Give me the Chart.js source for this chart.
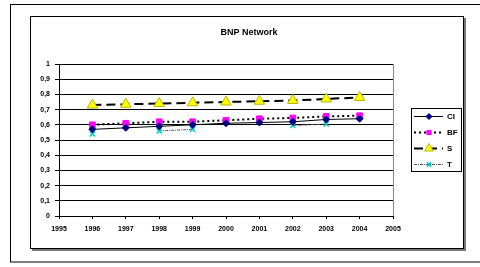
<!DOCTYPE html>
<html><head><meta charset="utf-8">
<script src="https://cdn.jsdelivr.net/npm/chart.js@4/dist/chart.umd.min.js"></script>
<style>html,body{margin:0;padding:0;background:#fff;}#wrap{width:480px;height:267px;position:relative;}</style>
</head><body><div id="wrap"><canvas id="c" width="480" height="267"></canvas></div>
<script>
const title = "BNP Network";
const years = [1996, 1997, 1998, 1999, 2000, 2001, 2002, 2003, 2004];
const seriesNames = ["CI", "BF", "S", "T"];
const ciValues = [0.57, 0.58, 0.59, 0.60, 0.61, 0.615, 0.62, 0.635, 0.64];
const bfValues = [0.60, 0.61, 0.62, 0.62, 0.63, 0.64, 0.645, 0.655, 0.66];
const sValues  = [0.73, 0.735, 0.74, 0.745, 0.75, 0.755, 0.76, 0.77, 0.78];
const tValues  = [0.54, null, 0.56, 0.57, null, null, 0.595, 0.605, null];
const xMin = 1995, xMax = 2005;
const yTicks = [0, 0.1, 0.2, 0.3, 0.4, 0.5, 0.6, 0.7, 0.8, 0.9, 1];

const FONT = "'Liberation Sans', Arial, sans-serif";
const pts = v => years.map((y, i) => ({x: y, y: v[i]}));

const datasets = [
  {label: seriesNames[0], data: pts(ciValues), borderColor: '#000', borderWidth: 1, pointStyle: 'rectRot', pointRadius: 3.5, pointBackgroundColor: '#000080', pointBorderColor: '#000080', pointBorderWidth: 1},
  {label: seriesNames[1], data: pts(bfValues), borderColor: '#000', borderWidth: 2, borderDash: [2, 3], pointStyle: 'rect', pointRadius: 4, pointBackgroundColor: '#FF00FF', pointBorderColor: '#FF00FF', pointBorderWidth: 1},
  {label: seriesNames[2], data: pts(sValues), borderColor: '#000', borderWidth: 2, borderDash: [9, 5], pointStyle: 'triangle', pointRadius: 6, pointBackgroundColor: '#FFFF00', pointBorderColor: '#B8B800', pointBorderWidth: 1},
  {label: seriesNames[3], data: pts(tValues), borderColor: '#555', borderWidth: 1, borderDash: [3, 1, 1, 1], pointStyle: 'crossRot', pointRadius: 3.5, pointBackgroundColor: '#00FFFF', pointBorderColor: '#00CCCC', pointBorderWidth: 1.5, spanGaps: false}
];

const deco = {
  id: 'deco',
  beforeDraw(chart) {
    const ctx = chart.ctx;
    ctx.save();
    ctx.strokeStyle = '#000'; ctx.lineWidth = 1;
    ctx.strokeRect(10.5, 4.5, 480, 257.5);
    ctx.strokeStyle = '#777'; ctx.lineWidth = 2;
    ctx.beginPath(); ctx.moveTo(465, 18); ctx.lineTo(465, 250); ctx.lineTo(32, 250); ctx.stroke();
    ctx.strokeStyle = '#000'; ctx.lineWidth = 1;
    ctx.strokeRect(30.5, 16.5, 433, 232);
    ctx.restore();
  },
  afterDraw(chart) {
    const ctx = chart.ctx, a = chart.chartArea;
    ctx.save();
    ctx.strokeStyle = '#888'; ctx.lineWidth = 1;
    ctx.beginPath(); ctx.moveTo(Math.round(a.right) + 0.5, a.top); ctx.lineTo(Math.round(a.right) + 0.5, a.bottom); ctx.stroke();
    ctx.fillStyle = '#000'; ctx.font = "bold 9px " + FONT; ctx.textAlign = 'center'; ctx.textBaseline = 'middle';
    ctx.fillText(title, 249, 33);
    ctx.strokeStyle = '#000'; ctx.lineWidth = 1;
    ctx.strokeRect(411.5, 108.5, 50, 63);
    const rows = [116, 132, 148, 164];
    chart.data.datasets.forEach((ds, i) => {
      const y = rows[i];
      ctx.save();
      ctx.strokeStyle = ds.borderColor; ctx.lineWidth = ds.borderWidth;
      ctx.setLineDash(ds.borderDash || []);
      ctx.beginPath(); ctx.moveTo(414, y + 0.5); ctx.lineTo(443, y + 0.5); ctx.stroke();
      ctx.restore();
      ctx.save();
      ctx.fillStyle = ds.pointBackgroundColor; ctx.strokeStyle = ds.pointBorderColor; ctx.lineWidth = ds.pointBorderWidth;
      Chart.helpers.drawPoint(ctx, {pointStyle: ds.pointStyle, radius: Math.max(3, ds.pointRadius - 1), borderWidth: ds.pointBorderWidth, rotation: 0}, 429, y + 0.5);
      ctx.restore();
      ctx.fillStyle = '#000'; ctx.font = "bold 8px " + FONT; ctx.textAlign = 'left'; ctx.textBaseline = 'middle';
      ctx.fillText(ds.label, 447, y + 0.5);
    });
    ctx.restore();
  }
};

new Chart(document.getElementById('c'), {
  type: 'line',
  data: {datasets},
  options: {
    responsive: false, animation: false,
    layout: {padding: {left: 30, right: 87, top: 64, bottom: 31}},
    plugins: {legend: {display: false}, title: {display: false}, tooltip: {enabled: false}},
    scales: {
      x: {
        type: 'linear', min: xMin, max: xMax,
        afterFit(s) { s.height = 20; },
        afterBuildTicks(s) { s.ticks = []; for (let v = xMin; v <= xMax; v++) s.ticks.push({value: v}); },
        ticks: {stepSize: 1, color: '#000', font: {family: FONT, size: 7, weight: 'bold'}, padding: 6, maxRotation: 0, autoSkip: false, callback: v => String(v)},
        grid: {drawOnChartArea: false, drawTicks: true, tickLength: 3, color: '#000'},
        border: {color: '#000', width: 1}
      },
      y: {
        min: 0, max: 1,
        afterFit(s) { s.width = 29; },
        afterBuildTicks(s) { s.ticks = yTicks.map(v => ({value: v})); },
        ticks: {color: '#000', font: {family: FONT, size: 7, weight: 'bold'}, padding: 5, callback: v => String(Math.round(v * 10) / 10).replace('.', ',')},
        grid: {color: '#000', lineWidth: 1, tickLength: 4},
        border: {color: '#000', width: 1}
      }
    }
  },
  plugins: [deco]
});
</script></body></html>
